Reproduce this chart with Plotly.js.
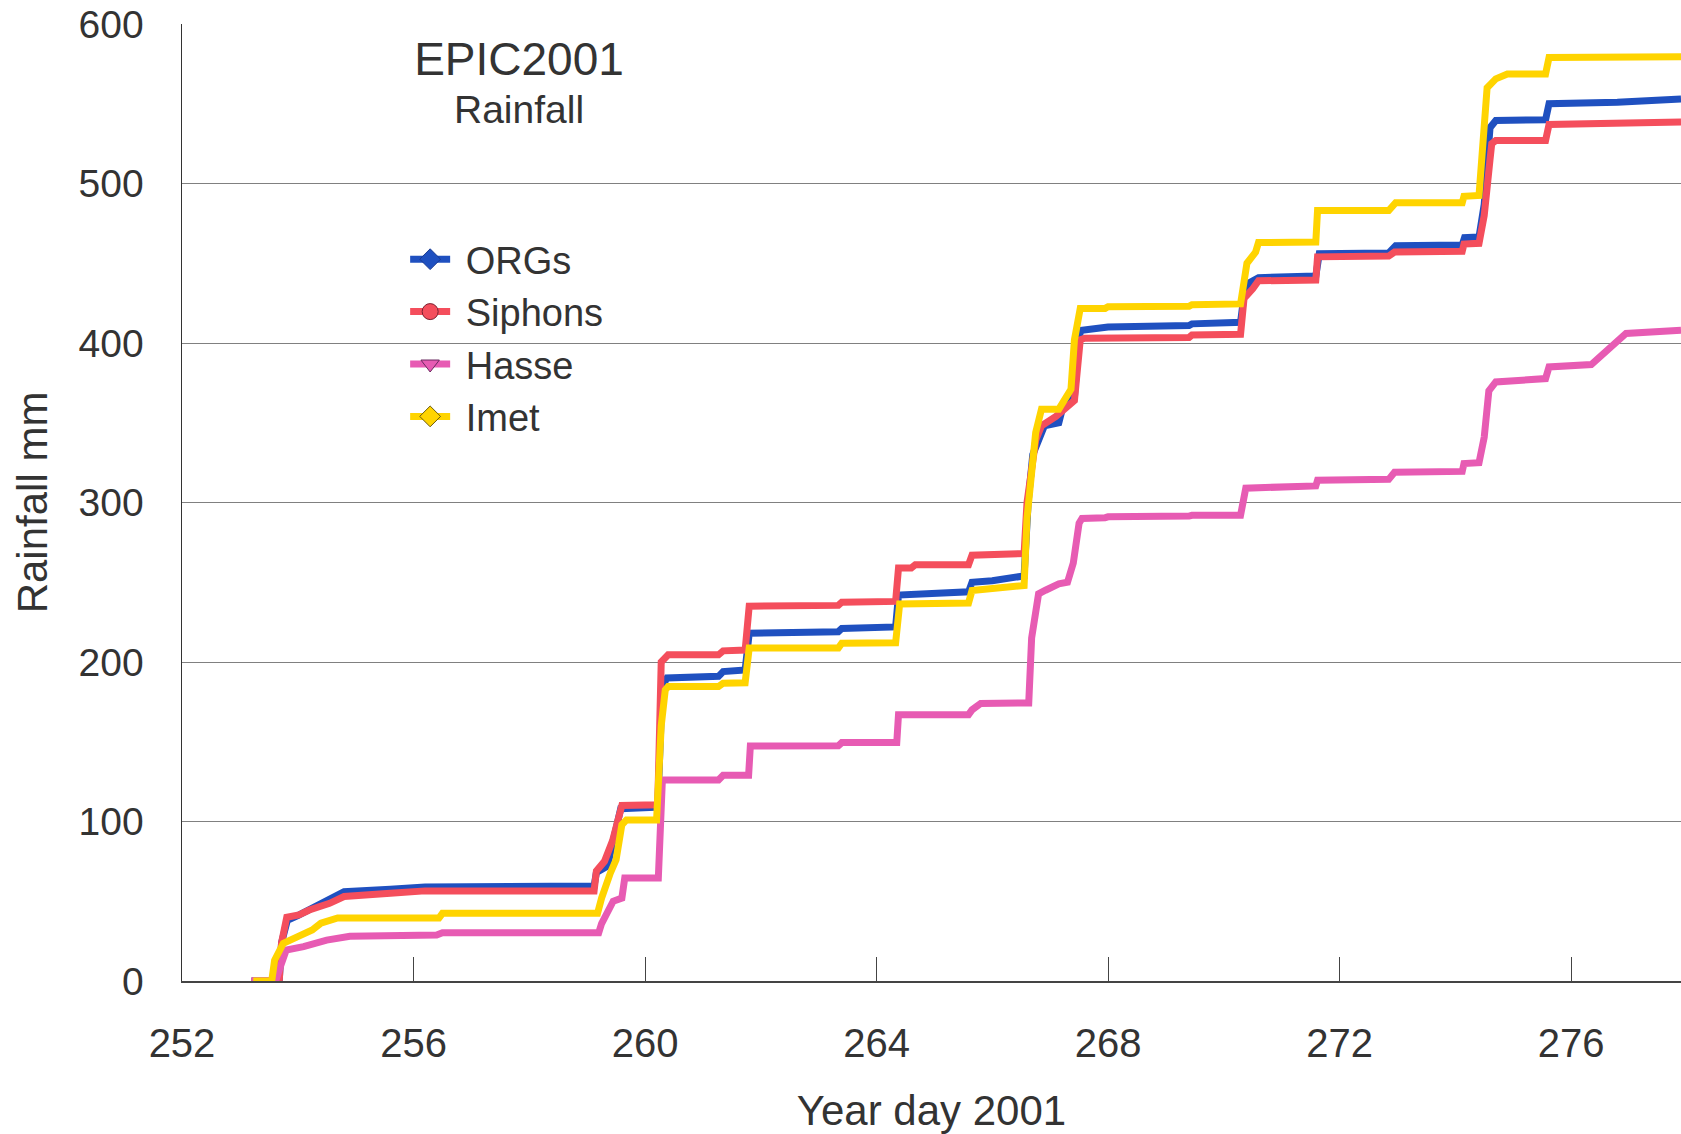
<!DOCTYPE html>
<html>
<head>
<meta charset="utf-8">
<script src="https://cdn.plot.ly/plotly-3.0.1.min.js"></script>
<style>
  html, body { margin: 0; padding: 0; background: #ffffff; }
  #chart { width: 1681px; height: 1134px; }
</style>
</head>
<body>
<div id="chart"></div>
<script>
// Cumulative rainfall, EPIC2001 cruise, by year day

const orgsDay = [253.2, 253.68, 253.72, 253.82, 254.0, 254.2, 254.55, 254.8, 255.6, 256.2, 259.12, 259.16, 259.35, 259.44, 259.58, 260.22, 260.3, 260.38, 261.27, 261.35, 261.73, 261.8, 263.34, 263.4, 264.33, 264.38, 265.59, 265.65, 266.0, 266.55, 266.62, 266.7, 266.8, 266.9, 267.15, 267.22, 267.42, 267.5, 267.55, 267.95, 268.0, 269.4, 269.45, 270.29, 270.35, 270.45, 270.6, 271.59, 271.65, 272.85, 272.97, 274.12, 274.16, 274.41, 274.5, 274.6, 274.7, 275.56, 275.62, 276.8, 277.9];
const orgsMm  = [0, 0, 24, 38, 41, 45, 51, 56, 57.5, 59, 59.5, 68, 72, 88, 108, 109, 185, 190, 191, 194, 195, 218, 219, 221, 222, 242, 244, 250, 251, 254, 300, 330, 340, 348, 350, 360, 366, 405, 408, 409, 410, 411, 412, 413, 430, 438, 441, 442, 456, 456.5, 461, 461.5, 466, 466.5, 487, 535, 539.5, 540, 550, 551, 553];

const siphonsDay = [253.2, 253.68, 253.72, 253.81, 254.02, 254.2, 254.55, 254.8, 255.6, 256.2, 259.12, 259.16, 259.3, 259.44, 259.6, 260.22, 260.28, 260.4, 261.27, 261.35, 261.73, 261.8, 263.34, 263.4, 264.33, 264.38, 264.6, 264.67, 265.59, 265.65, 266.55, 266.6, 266.75, 266.85, 267.1, 267.3, 267.42, 267.52, 267.6, 269.4, 269.45, 270.29, 270.35, 270.5, 270.6, 271.59, 271.62, 272.85, 272.95, 274.12, 274.15, 274.41, 274.5, 274.6, 274.63, 274.7, 275.56, 275.62, 277.9];
const siphonsMm  = [0, 0, 24, 40, 41.5, 44.5, 48.7, 53, 55, 56.5, 56.5, 69, 75, 88, 110, 110.5, 200, 204.5, 204.5, 207, 207.5, 235, 235.5, 237.5, 238, 259, 259, 261, 261, 267, 268, 300, 339, 348, 354, 360, 364, 402, 403, 403.5, 405, 405.5, 428, 434, 439, 439.5, 454, 454.5, 457, 457.5, 462, 462.5, 480, 515, 525, 527, 527, 537, 538.5];

const hasseDay = [253.2, 253.62, 253.68, 253.8, 254.1, 254.5, 254.9, 256.4, 256.5, 259.2, 259.25, 259.45, 259.6, 259.65, 260.23, 260.3, 261.27, 261.35, 261.79, 261.82, 263.34, 263.4, 264.35, 264.38, 265.59, 265.65, 265.8, 266.63, 266.68, 266.8, 266.92, 267.15, 267.3, 267.4, 267.5, 267.55, 267.95, 268.0, 269.4, 269.45, 270.29, 270.38, 271.59, 271.62, 272.85, 272.95, 274.12, 274.15, 274.41, 274.5, 274.58, 274.7, 275.56, 275.62, 276.35, 276.95, 277.9];
const hasseMm  = [0, 0, 7, 19.4, 21.5, 25.6, 28, 28.8, 30.2, 30.2, 36, 50, 52, 64.5, 64.5, 126, 126, 129, 129, 147.4, 147.5, 149.5, 149.5, 167, 167, 170, 174, 174.3, 215, 242.7, 245, 249, 250, 262, 287, 290, 290.5, 291, 291.5, 292, 292, 309, 310.4, 314, 314.5, 319, 319.5, 324.4, 325, 341, 370, 375.6, 377.7, 385, 386.5, 406, 408];

const imetDay = [253.23, 253.55, 253.6, 253.75, 254.0, 254.25, 254.4, 254.69, 256.44, 256.5, 259.18, 259.25, 259.4, 259.5, 259.6, 259.68, 260.2, 260.28, 260.35, 260.4, 261.27, 261.35, 261.73, 261.8, 263.34, 263.4, 264.33, 264.4, 265.59, 265.65, 266.55, 266.6, 266.75, 266.85, 267.15, 267.25, 267.36, 267.42, 267.52, 267.95, 268.0, 269.4, 269.45, 270.29, 270.4, 270.55, 270.6, 271.59, 271.62, 272.85, 272.97, 274.12, 274.15, 274.41, 274.5, 274.55, 274.7, 274.9, 275.56, 275.62, 277.9];
const imetMm  = [0, 0, 13, 23.6, 27.8, 32, 36.2, 39.5, 39.5, 42.4, 42.4, 52, 67.6, 76, 98, 101, 101, 160, 182.5, 184.6, 184.6, 186.7, 187, 208.7, 208.7, 211.8, 212, 236.4, 237, 244.8, 248, 290, 343.8, 358.5, 358.5, 363.8, 371, 402, 421.7, 421.7, 422.7, 423, 424, 424.5, 450, 457, 463, 463.3, 483, 483, 488, 488, 492, 492.5, 529, 560, 565.6, 568.7, 568.7, 579, 579.5];

const seriesNames = ['ORGs', 'Siphons', 'Hasse', 'Imet'];
const yTicks = [0, 100, 200, 300, 400, 500, 600];
const xTicks = [252, 256, 260, 264, 268, 272, 276];

const colors = {
  ORGs: '#1f50c0',
  Siphons: '#f44e5c',
  Hasse: '#e75bb3',
  Imet: '#ffd400'
};
const symbols = {
  ORGs: 'diamond',
  Siphons: 'circle',
  Hasse: 'triangle-down',
  Imet: 'diamond'
};
const outlines = {
  ORGs: '#1a3a90',
  Siphons: '#7a2030',
  Hasse: '#6a2a60',
  Imet: '#6a5a10'
};

const seriesData = {
  ORGs: [orgsDay, orgsMm],
  Siphons: [siphonsDay, siphonsMm],
  Hasse: [hasseDay, hasseMm],
  Imet: [imetDay, imetMm]
};

const FONT = '"Liberation Sans", Arial, Helvetica, sans-serif';
const INK = '#333333';

// curves (no markers on the data, thick lines)
const traces = seriesNames.map(name => ({
  type: 'scatter',
  mode: 'lines',
  name: name,
  x: seriesData[name][0],
  y: seriesData[name][1],
  line: { color: colors[name], width: 7 },
  showlegend: false,
  legendgroup: name,
  hoverinfo: 'x+y+name'
}));

// legend keys: line with a symbol, no plotted points
const keys = seriesNames.map(name => ({
  type: 'scatter',
  mode: 'lines+markers',
  name: '\u00a0' + name,
  x: [null],
  y: [null],
  line: { color: colors[name], width: 7 },
  marker: {
    symbol: symbols[name],
    size: 17,
    color: colors[name],
    line: { color: outlines[name], width: 1 }
  },
  legendgroup: name,
  showlegend: true
}));

const layout = {
  width: 1681,
  height: 1134,
  paper_bgcolor: '#ffffff',
  plot_bgcolor: '#ffffff',
  margin: { l: 182, r: 0, t: 24, b: 153, pad: 0 },
  font: { family: FONT, color: INK, size: 36 },
  title: {
    text: 'EPIC2001',
    font: { family: FONT, size: 46, color: INK },
    x: 519 / 1681,
    xanchor: 'center',
    y: 1 - 59 / 1134,
    yanchor: 'middle'
  },
  annotations: [{
    text: 'Rainfall',
    xref: 'paper', yref: 'paper',
    x: (519 - 182) / 1498,
    y: 1 - (110 - 24) / 957,
    xanchor: 'center', yanchor: 'middle',
    showarrow: false,
    font: { family: FONT, size: 39, color: INK }
  }],
  showlegend: true,
  legend: {
    x: (405 - 182) / 1498,
    y: 1 - (228 - 24) / 957,
    xanchor: 'left',
    yanchor: 'top',
    bgcolor: 'rgba(0,0,0,0)',
    borderwidth: 0,
    itemwidth: 40,
    font: { family: FONT, size: 38, color: INK },
    traceorder: 'normal'
  },
  xaxis: {
    range: [252, 277.9],
    tickvals: xTicks,
    ticktext: xTicks.map(String),
    ticks: 'inside',
    ticklen: 24,
    tickwidth: 1,
    tickcolor: '#444444',
    showline: true,
    linecolor: '#444444',
    linewidth: 1.5,
    showgrid: false,
    zeroline: false,
    tickfont: { family: FONT, size: 40, color: INK },
    ticklabelstandoff: 26,
    title: {
      text: 'Year day 2001',
      font: { family: FONT, size: 42, color: INK },
      standoff: 38
    },
    automargin: false
  },
  yaxis: {
    range: [0, 600],
    tickvals: yTicks,
    ticktext: yTicks.map(String),
    ticks: '',
    showline: true,
    linecolor: '#333333',
    linewidth: 1.5,
    showgrid: true,
    gridcolor: '#808080',
    gridwidth: 1,
    zeroline: false,
    tickfont: { family: FONT, size: 39, color: INK },
    ticklabelstandoff: 29,
    title: {
      text: 'Rainfall mm',
      font: { family: FONT, size: 42, color: INK },
      standoff: 18
    },
    automargin: false
  }
};

Plotly.newPlot('chart', traces.concat(keys), layout, { displayModeBar: false, staticPlot: true });
</script>
</body>
</html>
